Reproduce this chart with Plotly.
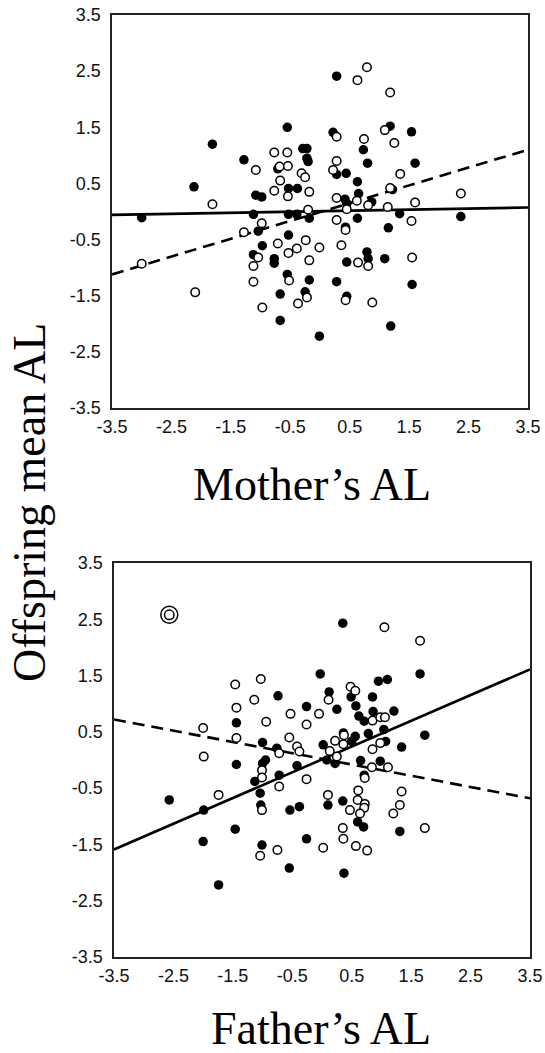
import plotly.graph_objects as go

# ---------------- data ----------------
tick_vals = [-3.5, -2.5, -1.5, -0.5, 0.5, 1.5, 2.5, 3.5]
tick_text = ["-3.5", "-2.5", "-1.5", "-0.5", "0.5", "1.5", "2.5", "3.5"]
line_x = [-3.5, 3.5]

# Mother's AL panel
m_filled_x = [-1.81, -2.12, -1.28, -1.08, -0.98, -0.55, -0.71, -0.53, -0.38, -1.12,
              -3.00, -1.04, -0.97, -1.12, -0.77, -0.77, -0.55, -0.67, -0.67, -0.53,
              -0.53, -0.39, -0.18, -0.29, -0.22, -0.22, -0.20, -0.25, -0.18, -0.01,
              0.28, 0.22, 0.73, 1.18, 1.54, 0.80, 1.60, 0.28, 0.44, 0.63,
              0.65, 0.42, 0.45, 0.87, 1.22, 1.34, 0.63, 0.43, 1.15, 0.79,
              0.81, 0.45, 1.09, 0.28, 0.45, 1.55, 2.37, 1.19]
m_filled_y = [1.20, 0.44, 0.92, 0.29, 0.26, 1.50, 0.76, 0.41, 0.41, -0.05,
              -0.11, -0.35, -0.61, -0.77, -0.84, -0.92, -1.12, -1.47, -1.94, -0.42,
              -0.05, -0.05, -0.12, 1.12, 1.12, 0.95, 0.89, -1.43, -1.22, -2.22,
              2.41, 1.41, 1.10, 1.52, 1.42, 0.86, 0.86, 0.66, 0.68, 0.53,
              0.32, 0.22, 0.14, 0.17, 0.39, -0.04, -0.12, -0.28, -0.29, -0.72,
              -0.84, -0.90, -0.84, -1.25, -1.51, -1.30, -0.09, -2.04]
m_open_x = [-1.81, -1.08, -0.77, -0.55, -0.68, -0.54, -0.67, -0.77, -0.54, -3.00,
            -2.10, -0.98, -1.28, -0.71, -1.04, -1.12, -1.12, -0.53, -0.52, -0.97,
            -0.31, -0.25, -0.18, -0.20, -0.39, -0.24, -0.01, -0.18, -0.22, -0.37,
            0.63, 0.79, 1.18, 0.28, 0.74, 1.09, 1.25, 1.35, 0.28, 0.22,
            0.28, 0.62, 0.81, 1.18, 1.14, 0.45, 0.28, 0.43, 1.54, 1.60,
            2.37, 0.36, 0.64, 0.81, 1.55, 0.43, 0.88]
m_open_y = [0.13, 0.74, 1.05, 1.05, 0.80, 0.81, 0.55, 0.37, 0.27, -0.93,
            -1.44, -0.21, -0.37, -0.57, -0.82, -0.97, -1.25, -0.74, -1.23, -1.71,
            0.68, 0.61, 0.35, 0.03, -0.66, -0.51, -0.64, -0.87, -1.53, -1.64,
            2.34, 2.57, 2.12, 1.33, 1.29, 1.45, 1.22, 0.67, 0.90, 0.74,
            0.24, 0.19, 0.11, 0.42, 0.08, 0.04, -0.15, -0.33, -0.17, 0.16,
            0.32, -0.60, -0.91, -0.97, -0.82, -1.58, -1.62]
m_solid_y = [-0.06, 0.07]
m_dashed_y = [-1.12, 1.10]

# Father's AL panel
f_filled_x = [-0.74, -1.44, -1.00, -0.76, -1.44, -0.95, -1.00, -1.99, -1.46, -1.13,
              -1.04, -1.03, -0.72, -0.54, -0.38, -0.42, -0.26, 0.12, 0.25, 0.49,
              0.85, 0.57, 0.86, 0.62, 0.71, 1.21, 1.04, 0.78, 0.56, 0.36,
              0.02, 0.50, 1.07, 1.34, 0.08, 0.22, 0.65, 0.98, 0.71, 0.35,
              0.10, 0.60, 0.70, 1.31, -0.26, 0.95, 1.10, 0.35, 1.65, -0.03,
              1.73, -2.57, -2.00, -1.74, -1.01, -0.55, 0.37]
f_filled_y = [1.14, 0.66, 0.31, 0.21, -0.08, 0.00, -0.06, -0.89, -1.23, -0.38,
              -0.59, -0.80, -0.27, -0.89, -0.83, -0.10, 0.95, 1.21, 0.90, 1.12,
              1.12, 0.96, 0.86, 0.78, 0.69, 0.87, 0.54, 0.47, 0.42, 0.48,
              0.27, 0.33, 0.33, 0.23, 0.00, -0.06, -0.01, -0.02, -0.27, -0.73,
              -0.80, -1.10, -1.19, -1.27, -1.40, 1.40, 1.43, 2.43, 1.53, 1.53,
              0.44, -0.71, -1.45, -2.22, -1.51, -1.92, -2.01]
f_open_x = [-1.46, -1.03, -1.14, -1.44, -0.94, -2.00, -0.53, -1.44, -0.72, -0.55,
            -1.99, -1.74, -1.01, -1.01, -1.01, -0.72, -0.26, -0.42, -0.38, -0.26,
            -0.05, 0.11, 0.48, 0.56, 0.85, 0.98, 1.06, 0.37, 0.22, 0.13,
            0.36, 0.98, 0.85, 0.25, 0.84, 1.11, 0.72, 0.61, 0.60, 0.72,
            0.71, 0.64, 0.47, 0.10, 0.35, 0.36, 1.34, 1.31, 1.20, 1.05,
            1.65, -1.04, -0.75, 0.57, 0.76, 0.02, 1.73]
f_open_y = [1.34, 1.44, 1.07, 0.93, 0.68, 0.57, 0.82, 0.39, 0.12, 0.40,
            0.06, -0.62, -0.18, -0.31, -0.89, -0.47, -0.34, 0.24, 0.15, 0.63,
            0.82, 1.07, 1.30, 1.23, 0.70, 0.76, 0.76, 0.44, 0.34, 0.16,
            0.28, 0.30, 0.19, 0.06, -0.13, -0.13, -0.32, -0.54, -0.71, -0.78,
            -0.85, -0.95, -0.89, -0.62, -1.21, -1.40, -0.56, -0.80, -0.95, 2.36,
            2.12, -1.70, -1.60, -1.53, -1.61, -1.56, -1.21]
f_double_x = [-2.57]
f_double_y = [2.58]
f_solid_y = [-1.59, 1.61]
f_dashed_y = [0.72, -0.68]

# ---------------- figure ----------------
fig = go.Figure()

filled_marker = dict(symbol="circle", size=9.5, color="black", line=dict(width=0))
open_marker = dict(symbol="circle", size=8.5, color="white", line=dict(color="black", width=1.5))
solid_line = dict(color="black", width=2.6)
dashed_line = dict(color="black", width=2.6, dash="12px,7px")

panels = [
    ("x", "y", m_filled_x, m_filled_y, m_open_x, m_open_y, m_solid_y, m_dashed_y),
    ("x2", "y2", f_filled_x, f_filled_y, f_open_x, f_open_y, f_solid_y, f_dashed_y),
]
for xa, ya, fx, fy, ox, oy, sy, dy in panels:
    fig.add_trace(go.Scatter(x=line_x, y=sy, mode="lines", line=solid_line,
                             xaxis=xa, yaxis=ya, showlegend=False, hoverinfo="skip"))
    fig.add_trace(go.Scatter(x=line_x, y=dy, mode="lines", line=dashed_line,
                             xaxis=xa, yaxis=ya, showlegend=False, hoverinfo="skip"))
    fig.add_trace(go.Scatter(x=fx, y=fy, mode="markers", marker=filled_marker,
                             xaxis=xa, yaxis=ya, showlegend=False, cliponaxis=False))
    fig.add_trace(go.Scatter(x=ox, y=oy, mode="markers", marker=open_marker,
                             xaxis=xa, yaxis=ya, showlegend=False, cliponaxis=False))

# double-circled point
fig.add_trace(go.Scatter(x=f_double_x, y=f_double_y, mode="markers",
                         marker=dict(symbol="circle", size=17, color="white",
                                     line=dict(color="black", width=1.5)),
                         xaxis="x2", yaxis="y2", showlegend=False))
fig.add_trace(go.Scatter(x=f_double_x, y=f_double_y, mode="markers",
                         marker=dict(symbol="circle", size=9.5, color="white",
                                     line=dict(color="black", width=1.5)),
                         xaxis="x2", yaxis="y2", showlegend=False))

tick_font = dict(family="Liberation Sans, Arial, sans-serif", size=18, color="#111111")
common = dict(range=[-3.5, 3.5], tickmode="array", tickvals=tick_vals, ticktext=tick_text,
              showgrid=False, zeroline=False, showline=True, mirror=True,
              linecolor="#222222", linewidth=1.6, ticks="", tickfont=tick_font,
              fixedrange=True, automargin=False)

W, H = 545, 1053
fig.update_layout(
    width=W, height=H, autosize=False,
    margin=dict(l=0, r=0, t=0, b=0, pad=0, autoexpand=False),
    paper_bgcolor="white", plot_bgcolor="white",
    xaxis=dict(domain=[112 / W, 528 / W], anchor="y", ticklabelstandoff=2, **common),
    yaxis=dict(domain=[1 - 408 / H, 1 - 15 / H], anchor="x", ticklabelstandoff=6, **common),
    xaxis2=dict(domain=[114 / W, 530 / W], anchor="y2", ticklabelstandoff=2, **common),
    yaxis2=dict(domain=[1 - 957 / H, 1 - 563 / H], anchor="x2", ticklabelstandoff=6, **common),
)

title_font = dict(family="Liberation Serif, Times New Roman, serif", size=46, color="black")
fig.add_annotation(text="Mother\u2019s AL", x=312 / W, y=1 - 484 / H, xref="paper", yref="paper",
                   xanchor="center", yanchor="middle", showarrow=False, font=title_font)
fig.add_annotation(text="Father\u2019s AL", x=321 / W, y=1 - 1028 / H, xref="paper", yref="paper",
                   xanchor="center", yanchor="middle", showarrow=False, font=title_font)
fig.add_annotation(text="Offspring mean AL", x=29 / W, y=1 - 503 / H, xref="paper", yref="paper",
                   xanchor="center", yanchor="middle", showarrow=False, textangle=-90,
                   font=title_font)

fig.write_html("out.html",
               config={"displayModeBar": False, "staticPlot": True},
               post_script="document.body.style.margin='0px';"
                           "document.body.style.overflow='hidden';")
